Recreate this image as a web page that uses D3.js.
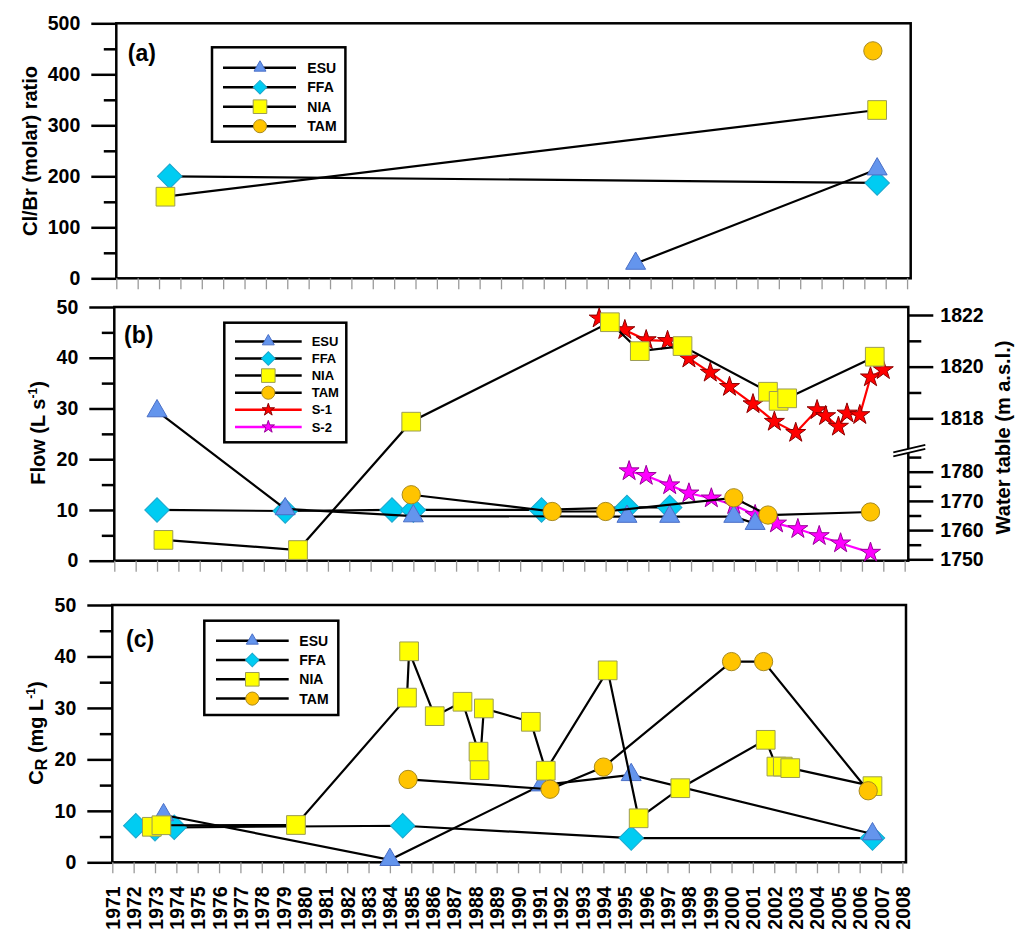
<!DOCTYPE html>
<html>
<head>
<meta charset="utf-8">
<script src="https://cdn.jsdelivr.net/npm/d3@7"></script>
<style>
  body { margin: 0; background: #fff; }
  svg { font-family: "Liberation Sans", Arial, Helvetica, sans-serif; font-weight: bold; }
</style>
</head>
<body>
<div id="chart"></div>
<script>
// ---- data ----
const years = d3.range(1971, 2009);

const ratioTicks = [0, 100, 200, 300, 400, 500];
const ratioMinor = [50, 150, 250, 350, 450];
const flowTicks = [0, 10, 20, 30, 40, 50];
const flowMinor = [5, 15, 25, 35, 45];
const crTicks = [0, 10, 20, 30, 40, 50];
const crMinor = [5, 15, 25, 35, 45];
const wtUpperTicks = [1818, 1820, 1822];
const wtUpperMinor = [1819, 1821];
const wtLowerTicks = [1750, 1760, 1770, 1780];
const wtLowerMinor = [1755, 1765, 1775, 1785];

// (a) Cl/Br molar ratio  [year, value]
const ratioESU = [[1995.3, 29], [2006.6, 214]];
const ratioFFA = [[1973.5, 200], [2006.6, 187]];
const ratioNIA = [[1973.3, 160], [2006.6, 330]];
const ratioTAM = [[2006.4, 446]];

// (b) flow, L/s
const flowESU = [[1973.0, 29.5], [1979.0, 10.2], [1985.0, 8.8], [1995.0, 8.7], [1997.0, 8.7], [2000.0, 8.7], [2001.0, 7.3]];
const flowFFA = [[1973.0, 10], [1979.0, 9.8], [1984.0, 10], [1985.0, 10], [1991.0, 10], [1995.0, 10.5], [1997.0, 10.5]];
const flowNIA = [[1973.3, 4.1], [1979.6, 2.1], [1984.9, 27.4], [1994.2, 47.0], [1995.6, 41.3], [1997.6, 42.3],
                 [2001.6, 33.3], [2002.1, 31.5], [2002.5, 32.0], [2006.6, 40.2]];
const flowTAM = [[1984.9, 13.0], [1991.5, 9.7], [1994.0, 9.7], [2000.0, 12.4], [2001.6, 9.0], [2006.4, 9.6]];

// (b) water table, m a.s.l.
const waterS1 = [[1993.7, 1821.87], [1994.9, 1821.42], [1995.9, 1821.03], [1996.9, 1821.0], [1997.9, 1820.32],
                 [1998.9, 1819.77], [1999.8, 1819.22], [2000.9, 1818.55], [2001.9, 1817.87], [2002.9, 1817.44],
                 [2003.9, 1818.32], [2004.3, 1818.09], [2004.9, 1817.68], [2005.3, 1818.19], [2005.9, 1818.13],
                 [2006.4, 1819.59], [2007.0, 1819.87]];
const waterS2 = [[1995.1, 1780.2], [1995.9, 1778.6], [1997.0, 1775.4], [1997.9, 1772.6], [1998.95, 1770.9],
                 [2000.0, 1768.6], [2001.0, 1765.2], [2002.0, 1762.3], [2003.0, 1760.4], [2004.0, 1758.0],
                 [2005.0, 1755.5], [2006.4, 1752.3]];

// (c) CR, mg/L
const crESU = [[1973.4, 9.2], [1984.0, 0.5], [1991.1, 15.0], [1995.3, 17.0], [2006.6, 5.5]];
const crFFA = [[1972.1, 7.1], [1973.0, 6.5], [1973.9, 6.8], [1984.6, 7.1], [1995.3, 4.7], [2006.6, 4.7]];
const crNIA = [[1972.85, 6.9], [1973.3, 7.2], [1979.6, 7.25], [1984.8, 32.0], [1984.9, 41.0], [1986.1, 28.4],
               [1987.4, 31.2], [1988.15, 21.5], [1988.2, 17.9], [1988.4, 29.9], [1990.6, 27.3], [1991.3, 17.8],
               [1994.2, 37.3], [1995.65, 8.55], [1997.6, 14.4], [2001.6, 23.8], [2002.1, 18.6], [2002.4, 18.6],
               [2002.75, 18.3], [2006.6, 14.8]];
const crTAM = [[1984.85, 16.1], [1991.5, 14.2], [1994.0, 18.5], [2000.0, 39.0], [2001.5, 39.0], [2006.4, 13.9]];

// ---- styles ----
const styles = {
  ESU: {type: d3.symbolTriangle, size: 173, legSize: 62, fill: '#6495ED', stroke: '#4a6fc6', line: '#000'},
  FFA: {type: d3.symbolSquare, size: 300, legSize: 92, rotate: 45, fill: '#00CCF2', stroke: '#1aa6cc', line: '#000'},
  NIA: {type: d3.symbolSquare, size: 350, legSize: 185, fill: '#FFFF00', stroke: '#9c9c55', line: '#000'},
  TAM: {type: d3.symbolCircle, size: 263, legSize: 135, fill: '#FFC400', stroke: '#a88a20', line: '#000'},
  'S-1': {type: d3.symbolStar, size: 124, legSize: 48, fill: '#FF0000', stroke: '#8a0000', line: '#FF0000'},
  'S-2': {type: d3.symbolStar, size: 124, legSize: 48, fill: '#FF00FF', stroke: '#990099', line: '#FF00FF'}
};

const tickFont = 19.5;

const W = 1024, H = 941;
const svg = d3.select('#chart').append('svg').attr('width', W).attr('height', H);

const panels = {
  a: {left: 116.3, top: 23.3, width: 794.4, height: 255},
  b: {left: 114.3, top: 307, width: 794, height: 253.7},
  c: {left: 112.3, top: 605, width: 793.7, height: 257.3}
};

function makeX(p) {
  return d3.scaleLinear().domain([1971, 2008.17]).range([0, p.width]);
}

function styleAxis(ax, color, width) {
  ax.select('.domain').remove();
  ax.attr('font-size', tickFont).attr('font-family', null);
  ax.selectAll('line').attr('stroke', color).attr('stroke-width', width);
  ax.selectAll('text').attr('fill', '#000')
    .style('font-size', tickFont + 'px').style('font-weight', 'bold');
}

function leftAxis(g, y, major, minor) {
  styleAxis(g.append('g').call(d3.axisLeft(y).tickValues(minor).tickSize(12.5).tickFormat('')), '#000', 2.5);
  styleAxis(g.append('g').call(d3.axisLeft(y).tickValues(major).tickSize(25).tickPadding(11)), '#000', 2.5);
}

function rightAxis(g, p, y, major, minor) {
  styleAxis(g.append('g').attr('transform', `translate(${p.width},0)`)
    .call(d3.axisRight(y).tickValues(minor).tickSize(13).tickFormat('')), '#000', 2.5);
  styleAxis(g.append('g').attr('transform', `translate(${p.width},0)`)
    .call(d3.axisRight(y).tickValues(major).tickSize(25).tickPadding(7).tickFormat(d3.format('d'))), '#000', 2.5);
}

function bottomAxis(g, p, x, labels) {
  const ax = g.append('g').attr('transform', `translate(0,${p.height})`)
    .call(d3.axisBottom(x).tickValues(years).tickSize(11).tickFormat(labels ? d3.format('d') : ''));
  styleAxis(ax, '#9a9a9a', 1.3);
  if (labels) {
    ax.selectAll('text')
      .attr('transform', 'rotate(-90)')
      .attr('x', -24).attr('y', 0).attr('dy', '0.36em')
      .style('text-anchor', 'end');
  }
}

function drawSeries(g, x, y, data, st) {
  g.append('path').datum(data)
    .attr('d', d3.line().x(d => x(d[0])).y(d => y(d[1])))
    .attr('fill', 'none').attr('stroke', st.line).attr('stroke-width', 2.2);
  g.selectAll(null).data(data).enter().append('path')
    .attr('transform', d => `translate(${x(d[0])},${y(d[1])}) rotate(${st.rotate || 0})`)
    .attr('d', d3.symbol().type(st.type).size(st.size))
    .attr('fill', st.fill).attr('stroke', st.stroke).attr('stroke-width', 1);
}

function drawLegend(g, lg, names, fontSize) {
  const l = g.append('g').attr('transform', `translate(${lg.x},${lg.y})`);
  l.append('rect').attr('width', lg.w).attr('height', lg.h)
    .attr('fill', '#fff').attr('stroke', '#000').attr('stroke-width', 2.5);
  names.forEach((n, i) => {
    const st = styles[n];
    const ry = lg.row0 + i * lg.step;
    l.append('line').attr('x1', lg.lineX1).attr('x2', lg.lineX2).attr('y1', ry).attr('y2', ry)
      .attr('stroke', st.line).attr('stroke-width', 2.5);
    l.append('path')
      .attr('transform', `translate(${lg.markX},${ry}) rotate(${st.rotate || 0})`)
      .attr('d', d3.symbol().type(st.type).size(st.legSize))
      .attr('fill', st.fill).attr('stroke', st.stroke).attr('stroke-width', 1);
    l.append('text').attr('x', lg.textX).attr('y', ry).attr('dy', '0.36em')
      .style('font-size', fontSize + 'px').text(n);
  });
}

function panelFrame(p) {
  const g = svg.append('g').attr('transform', `translate(${p.left},${p.top})`);
  g.append('rect').attr('width', p.width).attr('height', p.height)
    .attr('fill', 'none').attr('stroke', '#000').attr('stroke-width', 2.5);
  return g;
}

function panelLabel(g, txt, px, py) {
  g.append('text').attr('x', px).attr('y', py).style('font-size', '23px').text(txt);
}

// ---- panel (a) ----
{
  const p = panels.a;
  const g = panelFrame(p);
  const x = makeX(p);
  const y = d3.scaleLinear().domain([0, 500]).range([p.height, 0]);
  leftAxis(g, y, ratioTicks, ratioMinor);
  bottomAxis(g, p, x, false);
  drawSeries(g, x, y, ratioFFA, styles.FFA);
  drawSeries(g, x, y, ratioESU, styles.ESU);
  drawSeries(g, x, y, ratioNIA, styles.NIA);
  drawSeries(g, x, y, ratioTAM, styles.TAM);
  drawLegend(g, {x: 95.7, y: 24, w: 133.4, h: 94.4, row0: 20.4, step: 19.5,
                 lineX1: 11, lineX2: 84, markX: 48, textX: 95.3},
             ['ESU', 'FFA', 'NIA', 'TAM'], 14);
  panelLabel(g, '(a)', 11.5, 37.5);
  svg.append('text')
    .attr('transform', `translate(30,151) rotate(-90)`)
    .attr('dy', '0.36em').style('text-anchor', 'middle').style('font-size', '20px')
    .text('Cl/Br (molar) ratio');
}

// ---- panel (b) ----
{
  const p = panels.b;
  const g = panelFrame(p);
  const x = makeX(p);
  const y = d3.scaleLinear().domain([0, 50]).range([p.height, 0]);
  const yUp = d3.scaleLinear().domain([1818, 1822]).range([111.3, 8]);
  const yLow = d3.scaleLinear().domain([1750, 1780]).range([252.3, 164.7]);
  const breakY = 142.3;

  leftAxis(g, y, flowTicks, flowMinor);
  rightAxis(g, p, yUp, wtUpperTicks, wtUpperMinor);
  rightAxis(g, p, yLow, wtLowerTicks, wtLowerMinor);
  bottomAxis(g, p, x, false);

  // axis break marks
  const bx1 = p.width - 15, bx2 = p.width + 17;
  g.append('path')
    .attr('d', `M${bx1},${breakY + 3.5}L${bx2},${breakY - 4}L${bx2},${breakY - 0.5}L${bx1},${breakY + 7}Z`)
    .attr('fill', '#fff');
  [0, 4].forEach(o => {
    g.append('line').attr('x1', bx1).attr('y1', breakY + 3 + o).attr('x2', bx2).attr('y2', breakY - 4.5 + o)
      .attr('stroke', '#000').attr('stroke-width', 1.8);
  });

  drawSeries(g, x, yUp, waterS1, styles['S-1']);
  drawSeries(g, x, yLow, waterS2, styles['S-2']);
  drawSeries(g, x, y, flowFFA, styles.FFA);
  drawSeries(g, x, y, flowESU, styles.ESU);
  drawSeries(g, x, y, flowNIA, styles.NIA);
  drawSeries(g, x, y, flowTAM, styles.TAM);

  drawLegend(g, {x: 110, y: 15.7, w: 122, h: 119.6, row0: 18.7, step: 17.1,
                 lineX1: 10.7, lineX2: 77.4, markX: 44, textX: 87.4},
             ['ESU', 'FFA', 'NIA', 'TAM', 'S-1', 'S-2'], 13);
  panelLabel(g, '(b)', 9.7, 35.5);

  const t = svg.append('text')
    .attr('transform', `translate(38,433) rotate(-90)`)
    .attr('dy', '0.36em').style('text-anchor', 'middle').style('font-size', '20px');
  t.append('tspan').text('Flow (L s');
  t.append('tspan').attr('dy', -8).style('font-size', '12px').text('-1');
  t.append('tspan').attr('dy', 8).text(')');

  svg.append('text')
    .attr('transform', `translate(1003,437.5) rotate(-90)`)
    .attr('dy', '0.36em').style('text-anchor', 'middle').style('font-size', '20px')
    .text('Water table (m a.s.l.)');
}

// ---- panel (c) ----
{
  const p = panels.c;
  const g = panelFrame(p);
  const x = makeX(p);
  const y = d3.scaleLinear().domain([0, 50]).range([p.height, 0]);
  leftAxis(g, y, crTicks, crMinor);
  bottomAxis(g, p, x, true);
  drawSeries(g, x, y, crFFA, styles.FFA);
  drawSeries(g, x, y, crESU, styles.ESU);
  drawSeries(g, x, y, crNIA, styles.NIA);
  drawSeries(g, x, y, crTAM, styles.TAM);
  drawLegend(g, {x: 92, y: 15.7, w: 134, h: 94.3, row0: 20, step: 19.3,
                 lineX1: 11.7, lineX2: 84.4, markX: 48, textX: 95},
             ['ESU', 'FFA', 'NIA', 'TAM'], 14);
  panelLabel(g, '(c)', 13.7, 42);

  const t = svg.append('text')
    .attr('transform', `translate(36,733) rotate(-90)`)
    .attr('dy', '0.36em').style('text-anchor', 'middle').style('font-size', '20px');
  t.append('tspan').text('C');
  t.append('tspan').attr('dy', 4).style('font-size', '16px').text('R');
  t.append('tspan').attr('dy', -4).text(' (mg L');
  t.append('tspan').attr('dy', -8).style('font-size', '12px').text('-1');
  t.append('tspan').attr('dy', 8).text(')');
}
</script>
</body>
</html>
